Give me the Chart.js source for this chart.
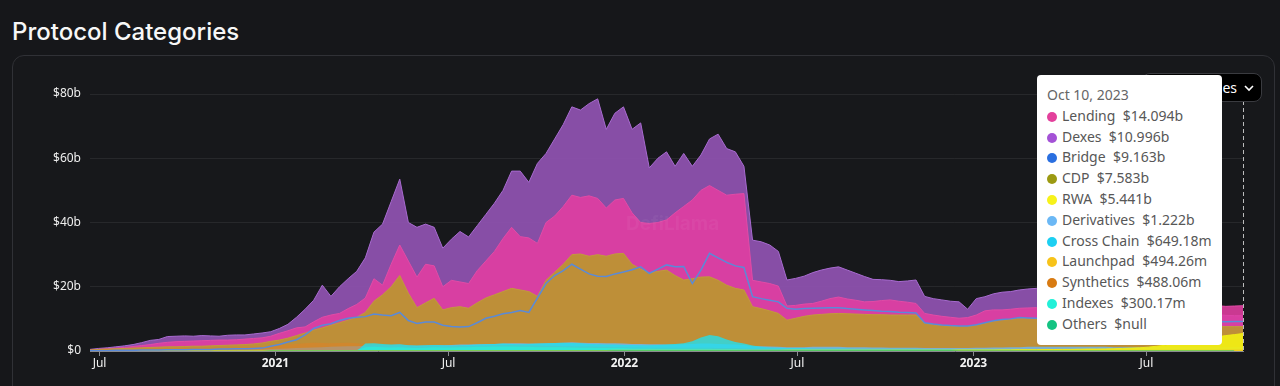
<!DOCTYPE html>
<html>
<head>
<meta charset="utf-8">
<title>Protocol Categories</title>
<script src="https://cdn.jsdelivr.net/npm/chart.js@4.4.0/dist/chart.umd.min.js"></script>
<style>
  html, body { margin: 0; padding: 0; background: #16171a; }
  body { width: 1280px; height: 386px; overflow: hidden; position: relative; font-family: "Noto Sans", sans-serif; }
  h1 { position: absolute; left: 12px; top: 17px; margin: 0; font: 500 24px/30px Inter, sans-serif; color: #f7f7f7; }
  .panel { position: absolute; left: 12px; top: 55px; width: 1263px; height: 360px; box-sizing: border-box;
           border: 1px solid #303136; border-radius: 12px; background: #17181b; }
  .chart-wrap { position: absolute; left: 12px; top: 55px; width: 1263px; height: 331px; z-index: 1; }
  .watermark { position: absolute; left: 626px; top: 212px; z-index: 2; font: 700 19px Inter, sans-serif;
               color: rgba(255, 255, 255, 0.045); }
  .select-btn { position: absolute; left: 1142px; top: 73px; width: 120px; height: 29px; box-sizing: border-box;
                z-index: 2; background: #000; border: 1px solid #3a3b40; border-radius: 8px; color: #fff;
                font-size: 14px; line-height: 27px; text-align: right; padding-right: 24px; }
  .select-btn svg { position: absolute; right: 7px; top: 10px; }
  #tip { position: absolute; z-index: 3; display: none; background: #fff; border-radius: 4px;
         padding: 12px 10px; font-size: 14px; line-height: 16.8px; color: #575757; white-space: pre; }
  #tip .tip-title { color: #666; margin-bottom: 0; }
  #tip .tip-row { margin-top: 4px; }
  #tip .dot { display: inline-block; width: 10px; height: 10px; border-radius: 50%; margin: 0 5px 0 0; vertical-align: -1px; }
</style>
</head>
<body>
<h1>Protocol Categories</h1>
<div class="panel"></div>
<div class="chart-wrap"><canvas id="protocol-chart"></canvas></div>
<div class="watermark">DefiLlama</div>
<div class="select-btn">Categories<svg width="10" height="8" viewBox="0 0 10 8"><polyline points="1,2 5,6 9,2" fill="none" stroke="#fff" stroke-width="1.6"/></svg></div>
<div id="tip"></div>
<script>
// daily TVL snapshots, one every 9 days from 21 Jun 2020 to 10 Oct 2023 (values in $b)
const startDate = Date.UTC(2020, 5, 21);
const stepDays = 9;

const categories = ['Lending', 'Dexes', 'Bridge', 'CDP', 'RWA', 'Derivatives', 'Cross Chain', 'Launchpad', 'Synthetics', 'Indexes', 'Others'];

const tickDates = ['2020-07-01', '2021-01-01', '2021-07-01', '2022-01-01', '2022-07-01', '2023-01-01', '2023-07-01'];
const tickLabels = ['Jul', '2021', 'Jul', '2022', 'Jul', '2023', 'Jul'];
const yTicks = [0, 20, 40, 60, 80];

const lending = [
  0.3, 0.5, 0.7, 0.9, 1.1, 1.4, 1.7, 2.0, 2.4, 2.7,
  2.9, 3.0, 3.1, 3.2, 3.3, 3.4, 3.4, 3.5, 3.7, 3.9,
  4.1, 4.6, 5.5, 6.3, 7.2, 7.5, 9.1, 10.5, 11.2, 11.7,
  13.2, 14.5, 16.5, 22.5, 20.5, 27.0, 33.0, 28.0, 23.0, 27.0,
  26.5, 20.0, 22.0, 21.5, 21.0, 25.0, 28.0, 31.0, 35.0, 38.5,
  35.6, 35.2, 33.5, 40.0, 42.0, 45.0, 48.5, 47.8, 48.3, 47.5,
  44.5, 47.0, 47.5, 43.0, 40.0, 39.7, 40.0, 40.8, 43.0, 45.0,
  47.0, 50.0, 51.5, 50.0, 48.5, 48.8, 49.0, 22.0, 21.5, 21.0,
  20.2, 14.0, 14.2, 14.6, 14.8, 15.5, 16.3, 16.8, 16.2, 15.8,
  15.3, 15.4, 15.7, 15.9, 15.5, 15.2, 14.8, 11.7, 11.2, 10.8,
  10.5, 10.2, 10.4, 11.2, 12.5, 12.8, 12.8, 13.0, 13.3, 13.4,
  13.5, 13.8, 14.2, 14.8, 15.2, 15.5, 15.3, 15.0, 14.7, 14.9,
  15.3, 15.6, 15.8, 15.5, 15.0, 14.6, 14.8, 14.4, 14.0, 14.2,
  14.3, 14.1, 13.9, 14.0, 14.094
];

const dexes = [
  0.5, 0.8, 1.0, 1.3, 1.6, 2.0, 2.6, 3.3, 3.6, 4.5,
  4.6, 4.7, 4.6, 4.8, 4.7, 4.6, 4.9, 5.0, 5.0, 5.3,
  5.6, 6.0, 7.0, 8.3, 10.5, 13.0, 15.8, 20.5, 17.0, 20.0,
  22.5, 24.8, 29.0, 37.0, 39.5, 46.5, 53.5, 40.0, 38.5, 39.5,
  38.5, 32.0, 34.8, 37.2, 35.5, 39.0, 42.5, 46.0, 50.0, 56.0,
  56.0, 52.5, 58.4, 61.5, 66.0, 70.5, 76.0, 75.0, 77.0, 78.5,
  69.0, 74.0, 76.0, 69.0, 71.0, 57.0, 60.0, 62.0, 57.5, 61.5,
  57.5, 61.0, 66.0, 67.5, 63.0, 62.0, 57.5, 34.5, 34.0, 33.0,
  31.0, 22.1, 22.6, 23.3, 24.4, 25.2, 25.8, 26.2, 25.2, 24.2,
  23.2, 22.3, 22.2, 22.0, 21.6, 21.8, 22.1, 17.0, 16.3, 15.9,
  15.5, 15.3, 13.0, 16.3, 16.9, 17.8, 18.3, 18.5, 19.0, 19.3,
  19.5, 19.3, 18.8, 18.0, 17.2, 16.5, 15.8, 15.2, 14.5, 14.2,
  14.0, 14.2, 14.3, 13.8, 13.2, 12.9, 12.8, 12.3, 11.9, 11.6,
  11.5, 11.3, 11.1, 11.0, 10.996
];

const bridge = [
  0.1, 0.1, 0.1, 0.2, 0.2, 0.2, 0.3, 0.3, 0.3, 0.4,
  0.4, 0.4, 0.5, 0.5, 0.5, 0.6, 0.6, 0.7, 0.7, 0.8,
  0.9, 1.5, 2.0, 2.8, 3.5, 5.0, 7.0, 8.0, 8.5, 9.5,
  10.2, 10.5, 10.7, 11.5, 11.2, 11.0, 12.0, 9.5, 8.6, 9.0,
  9.0, 8.0, 7.6, 7.5, 7.6, 8.8, 10.2, 10.8, 11.6, 12.0,
  12.6, 12.0, 16.5, 21.0, 23.5, 25.0, 27.0, 25.5, 24.0, 23.3,
  23.2, 24.0, 24.6, 25.3, 26.2, 24.2, 25.5, 26.8, 26.2, 26.3,
  21.0, 25.2, 30.4, 29.0, 27.6, 26.5, 26.0, 16.9, 16.3, 15.8,
  15.3, 13.3, 13.0, 13.2, 13.3, 13.4, 13.5, 13.5, 13.2, 13.0,
  12.8, 12.6, 12.4, 12.3, 12.1, 12.0, 11.8, 8.8, 8.4, 8.1,
  7.9, 7.8, 7.8, 8.2, 8.8, 9.4, 9.8, 10.0, 10.4, 10.3,
  10.2, 9.9, 9.8, 9.6, 9.5, 9.6, 9.7, 9.8, 9.7, 9.5,
  9.4, 9.6, 9.7, 9.5, 9.3, 9.2, 9.4, 9.3, 9.2, 9.1,
  9.2, 9.2, 9.1, 9.2, 9.163
];

const cdp = [
  0.3, 0.5, 0.6, 0.7, 0.8, 0.9, 1.0, 1.1, 1.2, 1.3,
  1.3, 1.4, 1.5, 1.5, 1.6, 1.7, 1.8, 1.9, 2.0, 2.2,
  2.5, 3.0, 3.4, 4.0, 4.8, 5.6, 6.5, 7.2, 8.0, 8.8,
  9.6, 10.5, 12.0, 15.5, 17.5, 20.0, 23.5, 18.0, 13.5, 15.0,
  16.4, 12.8, 13.5, 13.8, 13.3, 15.0, 16.5, 17.5, 18.5, 19.5,
  19.0, 18.5, 17.0, 22.0, 24.5, 27.0, 30.0, 30.2, 29.5, 30.0,
  29.5, 30.2, 30.4, 27.0, 25.5, 24.2, 24.8, 25.2, 23.5, 22.1,
  22.5, 23.0, 23.1, 22.0, 20.5, 19.5, 19.0, 13.8, 13.2, 12.5,
  11.7, 9.6, 10.2, 10.8, 11.2, 11.4, 11.6, 11.7, 11.6, 11.5,
  11.4, 11.3, 11.3, 11.2, 11.2, 11.2, 11.2, 8.6, 8.2, 7.9,
  7.7, 7.6, 7.6, 8.0, 8.6, 9.2, 9.6, 9.8, 10.2, 10.1,
  10.0, 9.8, 9.6, 9.3, 9.0, 8.8, 8.6, 8.5, 8.3, 8.2,
  8.0, 8.1, 8.0, 7.9, 7.9, 7.8, 7.8, 7.7, 7.7, 7.6,
  7.6, 7.6, 7.6, 7.6, 7.583
];

const rwa = [
  0, 0, 0, 0, 0, 0, 0, 0, 0, 0,
  0, 0, 0, 0, 0, 0, 0, 0, 0, 0,
  0, 0.05, 0.05, 0.05, 0.05, 0.05, 0.05, 0.05, 0.05, 0.05,
  0.05, 0.05, 0.05, 0.05, 0.05, 0.05, 0.05, 0.05, 0.05, 0.05,
  0.05, 0.1, 0.1, 0.1, 0.1, 0.1, 0.1, 0.1, 0.1, 0.1,
  0.1, 0.1, 0.1, 0.1, 0.1, 0.1, 0.1, 0.1, 0.1, 0.1,
  0.1, 0.15, 0.15, 0.15, 0.15, 0.15, 0.15, 0.15, 0.15, 0.15,
  0.15, 0.15, 0.15, 0.15, 0.15, 0.15, 0.15, 0.15, 0.15, 0.15,
  0.15, 0.2, 0.2, 0.2, 0.2, 0.2, 0.2, 0.2, 0.2, 0.2,
  0.2, 0.2, 0.2, 0.2, 0.2, 0.2, 0.2, 0.2, 0.2, 0.2,
  0.2, 0.3, 0.3, 0.3, 0.3, 0.3, 0.35, 0.35, 0.4, 0.4,
  0.4, 0.45, 0.45, 0.5, 0.5, 0.55, 0.6, 0.6, 0.65, 0.7,
  0.8, 0.9, 1.0, 1.2, 1.5, 1.8, 2.2, 2.6, 3.0, 3.4,
  3.9, 4.4, 4.8, 5.1, 5.441
];

const derivatives = [
  0.1, 0.1, 0.1, 0.1, 0.2, 0.2, 0.2, 0.2, 0.3, 0.3,
  0.3, 0.3, 0.3, 0.3, 0.3, 0.4, 0.4, 0.4, 0.4, 0.5,
  0.5, 0.6, 0.7, 0.8, 0.9, 1.0, 1.1, 1.2, 1.3, 1.4,
  1.5, 1.5, 1.6, 1.7, 1.8, 1.9, 2.0, 1.7, 1.6, 1.7,
  1.8, 1.8, 1.9, 2.0, 2.0, 2.1, 2.2, 2.2, 2.3, 2.4,
  2.4, 2.3, 2.3, 2.4, 2.5, 2.6, 2.7, 2.6, 2.5, 2.5,
  2.4, 2.4, 2.3, 2.2, 2.2, 2.1, 2.1, 2.0, 2.0, 2.1,
  2.2, 2.3, 2.3, 2.2, 2.1, 2.0, 1.9, 1.5, 1.5, 1.4,
  1.3, 1.2, 1.2, 1.2, 1.3, 1.3, 1.3, 1.3, 1.2, 1.2,
  1.2, 1.1, 1.1, 1.0, 1.0, 1.0, 1.0, 0.9, 0.9, 0.9,
  0.9, 0.9, 0.9, 1.0, 1.0, 1.1, 1.1, 1.2, 1.2, 1.3,
  1.3, 1.3, 1.3, 1.3, 1.3, 1.3, 1.3, 1.3, 1.3, 1.2,
  1.2, 1.2, 1.2, 1.2, 1.2, 1.2, 1.2, 1.2, 1.2, 1.2,
  1.2, 1.2, 1.2, 1.2, 1.222
];

const crossChain = [
  0, 0, 0, 0, 0, 0, 0, 0, 0, 0,
  0, 0, 0, 0, 0, 0, 0, 0, 0, 0,
  0, 0, 0, 0, 0, 0, 0, 0, 0, 0,
  0, 0, 2.3, 2.4, 2.2, 2.0, 2.1, 1.8, 1.7, 1.8,
  1.9, 1.8, 1.7, 1.8, 1.9, 2.0, 2.1, 2.2, 2.3, 2.2,
  2.1, 2.2, 2.3, 2.4, 2.5, 2.6, 2.5, 2.4, 2.2, 2.1,
  2.0, 2.0, 1.9, 1.9, 1.8, 1.8, 1.9, 2.0, 2.2, 2.4,
  3.0, 4.2, 5.0, 4.6, 3.6, 2.8, 2.3, 1.7, 1.3, 1.1,
  1.0, 0.9, 0.9, 0.9, 0.8, 0.8, 0.8, 0.8, 0.8, 0.7,
  0.7, 0.7, 0.7, 0.7, 0.7, 0.7, 0.7, 0.6, 0.6, 0.6,
  0.6, 0.6, 0.6, 0.6, 0.6, 0.6, 0.6, 0.6, 0.6, 0.6,
  0.6, 0.6, 0.6, 0.6, 0.6, 0.6, 0.6, 0.6, 0.6, 0.6,
  0.6, 0.6, 0.6, 0.6, 0.6, 0.6, 0.6, 0.6, 0.6, 0.6,
  0.6, 0.6, 0.6, 0.6, 0.64918
];

const launchpad = [
  0.2, 0.2, 0.2, 0.2, 0.2, 0.2, 0.2, 0.2, 0.2, 0.2,
  0.2, 0.2, 0.2, 0.2, 0.2, 0.2, 0.2, 0.2, 0.2, 0.2,
  0.2, 0.3, 0.3, 0.3, 0.3, 0.3, 0.3, 0.3, 0.3, 0.3,
  0.3, 0.3, 0.3, 0.3, 0.3, 0.3, 0.3, 0.3, 0.3, 0.3,
  0.3, 0.3, 0.3, 0.3, 0.3, 0.3, 0.3, 0.3, 0.3, 0.3,
  0.3, 0.3, 0.3, 0.3, 0.3, 0.3, 0.3, 0.3, 0.3, 0.3,
  0.3, 0.4, 0.4, 0.4, 0.4, 0.4, 0.4, 0.4, 0.4, 0.4,
  0.4, 0.4, 0.4, 0.4, 0.4, 0.4, 0.4, 0.4, 0.4, 0.4,
  0.4, 0.4, 0.4, 0.4, 0.4, 0.4, 0.4, 0.4, 0.4, 0.4,
  0.4, 0.4, 0.4, 0.4, 0.4, 0.4, 0.4, 0.4, 0.4, 0.4,
  0.4, 0.4, 0.4, 0.4, 0.4, 0.4, 0.4, 0.4, 0.4, 0.4,
  0.4, 0.4, 0.4, 0.4, 0.4, 0.4, 0.4, 0.4, 0.4, 0.4,
  0.4, 0.4, 0.4, 0.4, 0.4, 0.4, 0.4, 0.4, 0.4, 0.4,
  0.4, 0.4, 0.5, 0.5, 0.49426
];

const synthetics = [
  0.3, 0.4, 0.5, 0.5, 0.6, 0.6, 0.6, 0.7, 0.7, 0.7,
  0.8, 0.8, 0.8, 0.9, 0.9, 1.0, 1.0, 1.1, 1.2, 1.3,
  1.4, 1.6, 1.8, 2.0, 2.2, 2.4, 2.6, 2.5, 2.4, 2.5,
  2.6, 2.4, 2.2, 2.0, 1.8, 1.9, 2.0, 1.6, 1.4, 1.5,
  1.6, 1.4, 1.5, 1.6, 1.5, 1.6, 1.7, 1.8, 1.9, 1.9,
  1.8, 1.7, 1.7, 1.6, 1.6, 1.5, 1.5, 1.4, 1.4, 1.3,
  1.3, 1.2, 1.2, 1.1, 1.1, 1.0, 1.0, 1.0, 1.0, 1.0,
  1.0, 1.0, 1.0, 0.9, 0.9, 0.9, 0.8, 0.7, 0.7, 0.7,
  0.6, 0.6, 0.6, 0.6, 0.6, 0.6, 0.6, 0.6, 0.6, 0.6,
  0.6, 0.6, 0.6, 0.6, 0.6, 0.6, 0.6, 0.6, 0.6, 0.6,
  0.6, 0.5, 0.5, 0.5, 0.5, 0.5, 0.5, 0.5, 0.5, 0.5,
  0.5, 0.5, 0.5, 0.5, 0.5, 0.5, 0.5, 0.5, 0.5, 0.5,
  0.5, 0.5, 0.5, 0.5, 0.5, 0.5, 0.5, 0.5, 0.5, 0.5,
  0.5, 0.5, 0.5, 0.5, 0.48806
];

const indexes = [
  0.05, 0.05, 0.05, 0.05, 0.05, 0.05, 0.05, 0.05, 0.05, 0.05,
  0.1, 0.1, 0.1, 0.1, 0.1, 0.1, 0.1, 0.1, 0.1, 0.1,
  0.1, 0.2, 0.2, 0.2, 0.3, 0.3, 0.3, 0.3, 0.3, 0.3,
  0.3, 0.3, 1.2, 1.3, 1.2, 1.1, 1.2, 1.0, 0.9, 1.0,
  1.2, 1.1, 1.1, 1.2, 1.2, 1.3, 1.3, 1.4, 1.4, 1.4,
  1.3, 1.3, 1.2, 1.2, 1.2, 1.2, 1.1, 1.0, 1.0, 0.9,
  0.9, 0.9, 0.9, 0.8, 0.8, 0.8, 0.7, 0.7, 0.7, 0.7,
  0.7, 0.7, 0.7, 0.6, 0.6, 0.6, 0.5, 0.4, 0.4, 0.4,
  0.4, 0.4, 0.4, 0.4, 0.4, 0.4, 0.4, 0.4, 0.4, 0.4,
  0.4, 0.4, 0.4, 0.4, 0.4, 0.4, 0.4, 0.4, 0.4, 0.4,
  0.4, 0.3, 0.3, 0.3, 0.3, 0.3, 0.3, 0.3, 0.3, 0.3,
  0.3, 0.3, 0.3, 0.3, 0.3, 0.3, 0.3, 0.3, 0.3, 0.3,
  0.3, 0.3, 0.3, 0.3, 0.3, 0.3, 0.3, 0.3, 0.3, 0.3,
  0.3, 0.3, 0.3, 0.3, 0.30017
];

const others = [
  0.1, 0.1, 0.1, 0.1, 0.1, 0.1, 0.1, 0.1, 0.1, 0.1,
  0.1, 0.1, 0.1, 0.1, 0.1, 0.1, 0.1, 0.1, 0.1, 0.1,
  0.1, 0.2, 0.2, 0.2, 0.2, 0.2, 0.2, 0.2, 0.2, 0.2,
  0.2, 0.2, 0.2, 0.2, 0.2, 0.2, 0.2, 0.2, 0.2, 0.2,
  0.2, 0.2, 0.2, 0.2, 0.2, 0.2, 0.2, 0.2, 0.2, 0.2,
  0.2, 0.2, 0.2, 0.2, 0.2, 0.2, 0.2, 0.2, 0.2, 0.2,
  0.2, 0.3, 0.3, 0.3, 0.3, 0.3, 0.3, 0.3, 0.3, 0.3,
  0.3, 0.3, 0.3, 0.3, 0.3, 0.3, 0.3, 0.3, 0.3, 0.3,
  0.3, 0.3, 0.3, 0.3, 0.3, 0.3, 0.3, 0.3, 0.3, 0.3,
  0.3, 0.3, 0.3, 0.3, 0.3, 0.3, 0.3, 0.3, 0.3, 0.3,
  0.3, 0.2, 0.2, 0.2, 0.2, 0.2, 0.2, 0.2, 0.2, 0.2,
  0.2, 0.2, 0.2, 0.2, 0.2, 0.2, 0.2, 0.2, 0.2, 0.2,
  0.2, 0.2, 0.2, 0.2, 0.2, 0.2, 0.2, 0.2, 0.2, 0.2,
  0.2, 0.2, 0.2, 0.2, null
];

const seriesValues = [lending, dexes, bridge, cdp, rwa, derivatives, crossChain, launchpad, synthetics, indexes, others];

// styles
const dotColors = ['#e3409c', '#a452d6', '#2a6fe0', '#9c9a12', '#f7f21a', '#6bb8f5', '#1ccff2', '#f7c31a', '#d87b12', '#22f0d8', '#14c382'];
const fillColors = [
  'rgba(228, 62, 162, 0.88)', 'rgba(148, 84, 182, 0.9)', null, 'rgba(187, 150, 47, 0.93)',
  'rgba(240, 236, 20, 0.95)', 'rgba(108, 184, 245, 0.8)', 'rgba(35, 222, 236, 0.8)',
  'rgba(247, 195, 26, 0.7)', 'rgba(220, 130, 40, 0.6)', 'rgba(40, 240, 215, 0.7)', 'rgba(20, 195, 130, 0.7)'
];
const lineColors = ['#e24ba6', '#a86bd0', '#5a8ad8', '#c29a3c', '#f0ec14', '#6cb8f5', '#23deec', '#f7c31a', '#dc8228', '#28f0d7', '#14c382'];
const lineWidths = [1, 1, 1.5, 1, 1, 0, 0, 0, 0, 0, 0];
const drawOrder = [10, 11, 1, 9, 4, 8, 6, 3, 7, 5, 2];

const dayMs = 86400000;
const dates = lending.map((v, i) => startDate + i * stepDays * dayMs);
const monthNames = ['Jan', 'Feb', 'Mar', 'Apr', 'May', 'Jun', 'Jul', 'Aug', 'Sep', 'Oct', 'Nov', 'Dec'];

function formatDate(ms) {
  const d = new Date(ms);
  return monthNames[d.getUTCMonth()] + ' ' + d.getUTCDate() + ', ' + d.getUTCFullYear();
}

function formatValue(v) {
  if (v === null || v === undefined) return '$null';
  if (v >= 1) return '$' + v.toFixed(3) + 'b';
  return '$' + (v * 1000).toFixed(2) + 'm';
}

function renderTip(context) {
  const { chart, tooltip } = context;
  const tip = document.getElementById('tip');
  if (tooltip.opacity === 0 || !tooltip.dataPoints || !tooltip.dataPoints.length) {
    tip.style.display = 'none';
    return;
  }
  const points = tooltip.dataPoints;
  let html = '<div class="tip-title">' + formatDate(points[0].parsed.x) + '</div>';
  points.forEach(p => {
    html += '<div class="tip-row"><span class="dot" style="background:' + dotColors[p.datasetIndex] + '"></span>' +
      p.dataset.label + '  ' + formatValue(p.raw.y) + '</div>';
  });
  tip.innerHTML = html;
  tip.style.display = 'block';
  const wrap = chart.canvas.parentNode;
  tip.style.left = (wrap.offsetLeft + tooltip.caretX - 21 - tip.offsetWidth) + 'px';
  tip.style.top = (wrap.offsetTop + chart.chartArea.top - 19) + 'px';
}

const crosshair = {
  id: 'crosshair',
  afterDatasetsDraw(chart) {
    const active = chart.tooltip ? chart.tooltip.getActiveElements() : [];
    if (!active.length) return;
    const x = Math.round(active[0].element.x) + 0.5;
    const { ctx, chartArea } = chart;
    ctx.save();
    ctx.setLineDash([4, 3]);
    ctx.strokeStyle = 'rgba(230, 230, 230, 0.8)';
    ctx.lineWidth = 1;
    ctx.beginPath();
    ctx.moveTo(x, chartArea.top);
    ctx.lineTo(x, chartArea.bottom);
    ctx.stroke();
    ctx.restore();
  }
};

const datasets = categories.map((name, k) => ({
  label: name,
  data: seriesValues[k].map((v, i) => ({ x: dates[i], y: v })),
  fill: fillColors[k] ? 'origin' : false,
  backgroundColor: fillColors[k] || 'transparent',
  borderColor: lineColors[k],
  borderWidth: lineWidths[k],
  pointRadius: 0,
  pointHoverRadius: 0,
  tension: 0,
  order: drawOrder[k]
}));

Chart.defaults.font.family = '"Noto Sans", sans-serif';

const ctx = document.getElementById('protocol-chart').getContext('2d');
const chart = new Chart(ctx, {
  type: 'line',
  data: { datasets },
  plugins: [crosshair],
  options: {
    responsive: true,
    maintainAspectRatio: false,
    animation: false,
    events: [],
    layout: { padding: { top: 39, right: 32, left: 0, bottom: 0 } },
    scales: {
      x: {
        type: 'linear',
        min: dates[0],
        max: dates[dates.length - 1],
        afterBuildTicks: scale => { scale.ticks = tickDates.map(d => ({ value: Date.parse(d) })); },
        afterFit: scale => { scale.height = 35; },
        grid: { display: true, drawOnChartArea: false, drawTicks: true, tickLength: 5, color: '#8a8b90' },
        border: { display: true, color: '#8a8b90' },
        ticks: {
          autoSkip: false,
          maxRotation: 0,
          padding: 0,
          color: '#f2f2f2',
          callback: (value, index) => tickLabels[index],
          font: c => ({ size: 12, weight: (c.tick && new Date(c.tick.value).getUTCMonth() === 0) ? 'bold' : 'normal' })
        }
      },
      y: {
        min: 0,
        max: 80,
        afterBuildTicks: scale => { scale.ticks = yTicks.map(v => ({ value: v })); },
        afterFit: scale => { scale.width = 78; },
        grid: { color: 'rgba(255, 255, 255, 0.07)', drawTicks: false },
        border: { display: false },
        ticks: {
          padding: 9,
          color: '#eeeeee',
          font: { size: 12 },
          callback: v => v === 0 ? '$0' : '$' + v + 'b'
        }
      }
    },
    plugins: {
      legend: { display: false },
      tooltip: { enabled: false, animation: false, external: renderTip }
    }
  }
});

const lastIndex = dates.length - 1;
chart.tooltip.setActiveElements(categories.map((c, k) => ({ datasetIndex: k, index: lastIndex })), { x: 0, y: 0 });
chart.draw();
</script>
</body>
</html>
